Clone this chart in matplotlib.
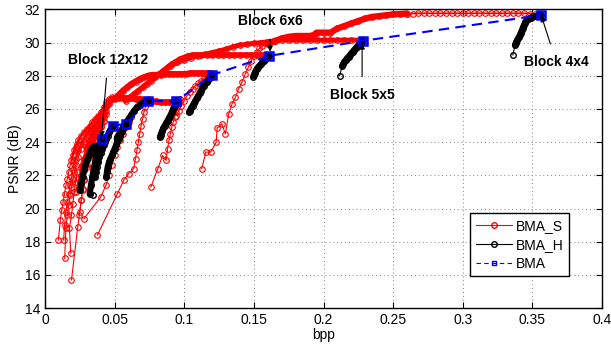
import matplotlib
matplotlib.use("Agg")
import matplotlib.pyplot as plt
from matplotlib.lines import Line2D

plt.rcParams["font.family"] = ["Liberation Sans", "DejaVu Sans"]

# ---- BMA (blue dashed, squares) ----
bma_x = [0.041, 0.049, 0.058, 0.074, 0.094, 0.120, 0.161, 0.228, 0.356]
bma_y = [24.2, 25.0, 25.1, 26.5, 26.45, 28.05, 29.2, 30.1, 31.65]

# ---- BMA_S curves (red) ----
sa_x = [0.0096, 0.011, 0.012, 0.013, 0.014, 0.015, 0.016, 0.017, 0.018, 0.019, 0.020, 0.021,
        0.022, 0.023, 0.024, 0.026, 0.028, 0.030, 0.032, 0.034, 0.036, 0.038, 0.040, 0.042,
        0.044, 0.046, 0.048]
sa_y = [18.1, 19.3, 19.9, 20.4, 20.9, 21.4, 21.8, 22.2, 22.6, 22.9, 23.2, 23.5,
        23.7, 23.9, 24.1, 24.4, 24.6, 24.8, 25.0, 25.2, 25.4, 25.6, 25.8, 26.1,
        26.4, 26.6, 26.7]
sb_x = [0.0134, 0.014, 0.015, 0.016, 0.017, 0.018, 0.019, 0.020, 0.021, 0.022, 0.024, 0.026,
        0.028, 0.030, 0.032, 0.034, 0.036, 0.038, 0.040, 0.042]
sb_y = [18.1, 19.0, 19.8, 20.4, 20.9, 21.4, 21.9, 22.3, 22.7, 23.0, 23.5, 23.9,
        24.2, 24.5, 24.7, 24.9, 25.1, 25.3, 25.5, 25.7]
sc_x = [0.0141, 0.015, 0.016, 0.017, 0.018, 0.019, 0.020, 0.021, 0.022, 0.024, 0.026, 0.028,
        0.030, 0.032, 0.034, 0.036]
sc_y = [17.0, 18.8, 19.6, 20.2, 20.8, 21.3, 21.8, 22.2, 22.6, 23.1, 23.6, 24.0,
        24.3, 24.6, 24.8, 25.0]
sd_x = [0.019, 0.0235, 0.025, 0.026, 0.027, 0.028, 0.030, 0.032, 0.034, 0.036, 0.038]
sd_y = [15.7, 18.9, 19.8, 20.5, 21.1, 21.7, 22.5, 23.1, 23.6, 24.1, 24.5]
sd2_x = [0.0185, 0.0175, 0.019, 0.020, 0.021, 0.022, 0.023]
sd2_y = [17.3, 18.8, 19.6, 20.3, 21.0, 21.6, 22.2]
se_x = [0.0245, 0.026, 0.027, 0.028, 0.030, 0.032, 0.034, 0.036, 0.038, 0.040, 0.042, 0.044]
se_y = [19.6, 20.5, 21.2, 21.8, 22.6, 23.2, 23.7, 24.1, 24.5, 24.9, 25.3, 25.7]
sf_x = [0.028, 0.040, 0.0437, 0.046, 0.048, 0.050, 0.052, 0.054, 0.056, 0.058, 0.060, 0.062]
sf_y = [19.4, 20.7, 21.4, 22.0, 22.6, 23.2, 23.7, 24.1, 24.5, 24.9, 25.2, 25.5]
sg_x = [0.0376, 0.052, 0.0568, 0.060, 0.0636, 0.065, 0.066, 0.067, 0.068, 0.069, 0.070,
        0.071, 0.072, 0.073, 0.074]
sg_y = [18.4, 20.9, 21.75, 22.1, 22.4, 23.0, 23.5, 24.0, 24.5, 25.0, 25.4,
        25.8, 26.1, 26.4, 26.6]
sh_x = [0.076, 0.081, 0.0845, 0.087, 0.088, 0.089, 0.090, 0.091, 0.092, 0.093, 0.094,
        0.095, 0.096, 0.097]
sh_y = [21.3, 22.4, 23.2, 22.9, 23.6, 24.1, 24.5, 24.9, 25.2, 25.5, 25.8,
        26.1, 26.4, 26.6]
si_x = [0.094, 0.096, 0.098, 0.100, 0.102, 0.104, 0.106, 0.108, 0.110, 0.112, 0.114,
        0.116, 0.118]
si_y = [25.6, 25.9, 26.2, 26.5, 26.8, 27.0, 27.2, 27.4, 27.55, 27.7, 27.85, 28.0, 28.1]
sj_x = [0.1125, 0.1155, 0.119, 0.1229, 0.1236, 0.127, 0.1295, 0.1319, 0.1343, 0.1367,
        0.139, 0.1414, 0.1438, 0.146, 0.148, 0.150, 0.152, 0.154, 0.156, 0.158, 0.160]
sj_y = [22.4, 23.4, 23.4, 24.0, 24.85, 25.1, 24.5, 25.7, 26.3, 26.7, 27.2, 27.6, 28.1,
        28.5, 28.9, 29.2, 29.45, 29.65, 29.8, 29.95, 30.05]
# dense bands of the lower-left cluster
sk_x = [0.022, 0.024, 0.026, 0.028, 0.030, 0.032, 0.034, 0.036, 0.038, 0.040, 0.042]
sk_y = [21.0, 21.8, 22.5, 23.0, 23.4, 23.8, 24.1, 24.4, 24.7, 25.0, 25.3]
sl_x = [0.026, 0.028, 0.030, 0.032, 0.034, 0.036, 0.038, 0.040, 0.042, 0.044, 0.046]
sl_y = [22.0, 22.6, 23.1, 23.5, 23.9, 24.3, 24.7, 25.1, 25.5, 25.9, 26.3]
# plateau bands
sp1_x = [0.030, 0.032, 0.034, 0.036, 0.038, 0.040, 0.042, 0.044, 0.046, 0.048, 0.050,
         0.053, 0.056, 0.059, 0.062, 0.065, 0.068, 0.071, 0.074, 0.077, 0.080, 0.083,
         0.086, 0.089, 0.092, 0.095]
sp1_y = [23.6, 24.0, 24.4, 24.8, 25.1, 25.4, 25.8, 26.1, 26.4, 26.6, 26.65,
         26.65, 26.65, 26.65, 26.65, 26.6, 26.6, 26.55, 26.5, 26.45, 26.45, 26.4,
         26.4, 26.4, 26.4, 26.4]
sp2_x = [0.050, 0.053, 0.056, 0.059, 0.062, 0.065, 0.068, 0.071, 0.074, 0.077, 0.080,
         0.083, 0.086, 0.089, 0.092, 0.095, 0.098, 0.101, 0.104, 0.107, 0.110, 0.113,
         0.116, 0.119]
sp2_y = [26.6, 26.85, 27.1, 27.3, 27.5, 27.65, 27.8, 27.9, 28.0, 28.05, 28.05,
         28.05, 28.1, 28.1, 28.1, 28.1, 28.1, 28.1, 28.15, 28.15, 28.15, 28.15,
         28.15, 28.15]
sp3_x = [0.058, 0.061, 0.064, 0.067, 0.070, 0.073, 0.076, 0.079, 0.082, 0.085, 0.088,
         0.091, 0.094, 0.097, 0.100, 0.103, 0.106, 0.109, 0.112, 0.116, 0.120, 0.124,
         0.128, 0.132, 0.136, 0.140, 0.144, 0.148, 0.152, 0.156, 0.160]
sp3_y = [26.5, 26.7, 26.9, 27.1, 27.3, 27.5, 27.7, 27.9, 28.1, 28.3, 28.5,
         28.7, 28.85, 29.0, 29.1, 29.2, 29.25, 29.25, 29.25, 29.25, 29.25, 29.25,
         29.25, 29.25, 29.25, 29.25, 29.25, 29.25, 29.25, 29.25, 29.25]
sp4_x = [0.090, 0.095, 0.100, 0.105, 0.110, 0.115, 0.120, 0.125, 0.130, 0.135, 0.140,
         0.145, 0.150, 0.155, 0.160, 0.165, 0.170, 0.175, 0.180, 0.185, 0.190, 0.195,
         0.200, 0.205, 0.210, 0.215, 0.220, 0.226]
sp4_y = [28.6, 28.8, 28.95, 29.1, 29.2, 29.3, 29.4, 29.5, 29.6, 29.75, 29.85,
         29.9, 29.95, 30.0, 30.05, 30.1, 30.15, 30.15, 30.15, 30.15, 30.15, 30.15,
         30.15, 30.15, 30.15, 30.15, 30.15, 30.15]
sp5_x = [0.160, 0.165, 0.170, 0.175, 0.180, 0.185, 0.190, 0.193, 0.195, 0.200, 0.205,
         0.210, 0.215, 0.220, 0.225, 0.230, 0.235, 0.240, 0.245, 0.250, 0.255, 0.260]
sp5_y = [29.9, 30.1, 30.25, 30.35, 30.4, 30.4, 30.4, 30.45, 30.6, 30.6, 30.6,
         30.85, 31.0, 31.15, 31.3, 31.45, 31.55, 31.6, 31.65, 31.7, 31.72, 31.75]
sp6_x = [0.260, 0.264, 0.268, 0.272, 0.276, 0.280, 0.284, 0.288, 0.292, 0.296, 0.300,
         0.304, 0.308, 0.312, 0.316, 0.320, 0.324, 0.328, 0.332, 0.336, 0.340, 0.344,
         0.348, 0.352, 0.355]
sp6_y = [31.75, 31.75, 31.76, 31.76, 31.76, 31.76, 31.76, 31.76, 31.76, 31.76, 31.76,
         31.76, 31.76, 31.76, 31.76, 31.76, 31.76, 31.76, 31.76, 31.76, 31.76, 31.76,
         31.75, 31.72, 31.7]

# ---- BMA_H curves (black) ----
h1_x = [0.336, 0.3375, 0.338, 0.3385, 0.339, 0.340, 0.3405, 0.341, 0.3415, 0.342, 0.3425,
        0.343, 0.3435, 0.344, 0.3445, 0.345, 0.346, 0.347, 0.348, 0.349, 0.350, 0.351,
        0.352, 0.353, 0.354, 0.355, 0.356]
h1_y = [29.25, 29.85, 29.95, 30.05, 30.15, 30.25, 30.35, 30.45, 30.55, 30.65, 30.75,
        30.85, 30.95, 31.05, 31.15, 31.25, 31.35, 31.4, 31.45, 31.5, 31.55, 31.58,
        31.6, 31.62, 31.64, 31.65, 31.65]
h2_x = [0.2115, 0.2135, 0.214, 0.215, 0.216, 0.217, 0.218, 0.219, 0.220, 0.221, 0.222,
        0.223, 0.224, 0.225, 0.226, 0.227, 0.228]
h2_y = [28.0, 28.6, 28.7, 28.85, 28.95, 29.05, 29.15, 29.25, 29.35, 29.45, 29.55,
        29.65, 29.75, 29.85, 29.95, 30.05, 30.1]
h3_x = [0.1495, 0.150, 0.1505, 0.151, 0.152, 0.153, 0.154, 0.155, 0.156, 0.157, 0.158,
        0.159, 0.160, 0.161]
h3_y = [27.95, 28.05, 28.15, 28.25, 28.4, 28.5, 28.6, 28.7, 28.8, 28.9, 29.0,
        29.1, 29.15, 29.2]
h4_x = [0.1035, 0.104, 0.105, 0.106, 0.107, 0.108, 0.109, 0.110, 0.111, 0.112, 0.113,
        0.114, 0.115, 0.116, 0.117, 0.118, 0.119, 0.120]
h4_y = [25.8, 25.9, 26.05, 26.2, 26.35, 26.5, 26.65, 26.8, 26.95, 27.1, 27.25,
        27.4, 27.55, 27.65, 27.75, 27.85, 27.95, 28.05]
h5_x = [0.0825, 0.083, 0.084, 0.085, 0.086, 0.087, 0.088, 0.089, 0.090, 0.091, 0.092,
        0.093, 0.094]
h5_y = [24.3, 24.45, 24.65, 24.85, 25.0, 25.15, 25.3, 25.45, 25.6, 25.8, 26.0, 26.2, 26.45]
h6_x = [0.0515, 0.052, 0.053, 0.054, 0.055, 0.056, 0.057, 0.058, 0.059, 0.060, 0.062,
        0.064, 0.066, 0.068, 0.070, 0.072, 0.074]
h6_y = [24.2, 24.3, 24.45, 24.6, 24.75, 24.9, 25.0, 25.1, 25.25, 25.4, 25.65,
        25.9, 26.1, 26.25, 26.4, 26.5, 26.5]
h7_x = [0.044, 0.0445, 0.045, 0.046, 0.047, 0.048, 0.049, 0.050, 0.051, 0.052, 0.053,
        0.054, 0.055, 0.056, 0.057, 0.058]
h7_y = [21.9, 22.2, 22.5, 22.8, 23.0, 23.2, 23.4, 23.6, 23.8, 24.0, 24.2,
        24.4, 24.6, 24.8, 25.0, 25.1]
h8_x = [0.036, 0.0365, 0.037, 0.038, 0.039, 0.040, 0.041, 0.042, 0.043, 0.044, 0.045,
        0.046, 0.047, 0.048, 0.049]
h8_y = [21.9, 22.2, 22.5, 22.8, 23.1, 23.35, 23.6, 23.8, 24.0, 24.2, 24.4,
        24.6, 24.75, 24.9, 25.0]
h9_x = [0.0345, 0.0321, 0.033, 0.034, 0.035, 0.036, 0.037, 0.038, 0.039, 0.040, 0.041]
h9_y = [20.8, 20.9, 21.4, 21.9, 22.4, 22.8, 23.2, 23.6, 23.9, 24.1, 24.25]
h10_x = [0.0249, 0.026, 0.027, 0.028, 0.029, 0.030, 0.031, 0.032, 0.033, 0.034, 0.035]
h10_y = [21.1, 21.5, 21.9, 22.3, 22.6, 22.9, 23.1, 23.3, 23.5, 23.65, 23.75]

# (x, y, band width in points, index where the dense band starts)
s_curves = [(sa_x, sa_y, 2.0, 9), (sb_x, sb_y, 1.5, 8), (sc_x, sc_y, 1.0, 8),
            (sd_x, sd_y, 0.8, 0), (sd2_x, sd2_y, 0.8, 0), (se_x, se_y, 1.5, 5),
            (sf_x, sf_y, 0.8, 0), (sg_x, sg_y, 0.8, 0), (sh_x, sh_y, 0.8, 0),
            (si_x, si_y, 0.8, 0), (sj_x, sj_y, 0.8, 0), (sk_x, sk_y, 3.0, 2),
            (sl_x, sl_y, 3.0, 1), (sp1_x, sp1_y, 4.5, 0), (sp2_x, sp2_y, 4.5, 0),
            (sp3_x, sp3_y, 4.0, 0), (sp4_x, sp4_y, 3.5, 0), (sp5_x, sp5_y, 4.5, 0),
            (sp6_x, sp6_y, 1.2, 0)]
# (x, y, index where the dense part starts)
h_curves = [(h1_x, h1_y, 1), (h2_x, h2_y, 1), (h3_x, h3_y, 0), (h4_x, h4_y, 0),
            (h5_x, h5_y, 0), (h6_x, h6_y, 0), (h7_x, h7_y, 0), (h8_x, h8_y, 0),
            (h9_x, h9_y, 1), (h10_x, h10_y, 0)]

fig = plt.figure(figsize=(6.11, 3.47), dpi=100)
ax = fig.add_axes([0.0737, 0.112, 0.9116, 0.861])

for x, y, w, k in s_curves:
    if w > 1:
        ax.plot(x[k:], y[k:], "-", color="red", lw=w, solid_capstyle="round")
    ax.plot(x, y, "-o", color="red", lw=0.8, ms=4, mfc="none", mew=0.8)
for x, y, k in h_curves:
    ax.plot(x, y, "-o", color="black", lw=0.8, ms=4, mfc="none", mew=1.0)
    ax.plot(x[k:], y[k:], "-", color="black", lw=4.5, solid_capstyle="round")
ax.plot(bma_x, bma_y, "--s", color="blue", lw=1.5, ms=6, mfc="none", mew=1.8,
        dashes=(5, 3))

ax.set_xlim(0, 0.4)
ax.set_ylim(14, 32)
ax.set_xticks([0, 0.05, 0.1, 0.15, 0.2, 0.25, 0.3, 0.35, 0.4])
ax.set_xticklabels(["0", "0.05", "0.1", "0.15", "0.2", "0.25", "0.3", "0.35", "0.4"])
ax.set_yticks(range(14, 33, 2))
ax.tick_params(direction="in", top=True, right=True, labelsize=10, length=4)
ax.grid(True, linestyle=(0, (1, 3)), color="gray", lw=0.7)
ax.set_xlabel("bpp", fontsize=10, labelpad=1)
ax.set_ylabel("PSNR (dB)", fontsize=10, labelpad=2)
for sp in ax.spines.values():
    sp.set_linewidth(1.0)

# annotations
bold = dict(fontsize=10, fontweight="bold", ha="center", va="center")
arrow = dict(arrowstyle="-|>", color="black", lw=0.8, shrinkA=6, shrinkB=0,
             mutation_scale=8)
ax.annotate("Block 12x12", xy=(0.0405, 24.3), xytext=(0.0452, 28.95),
            arrowprops=arrow, **bold)
ax.annotate("Block 6x6", xy=(0.1616, 29.45), xytext=(0.1616, 31.3),
            arrowprops=arrow, **bold)
ax.annotate("Block 5x5", xy=(0.2277, 29.95), xytext=(0.2277, 26.85),
            arrowprops=arrow, **bold)
ax.annotate("Block 4x4", xy=(0.3565, 31.6), xytext=(0.367, 28.85),
            arrowprops=arrow, **bold)

handles = [
    Line2D([], [], color="red", marker="o", ms=4, mfc="none", lw=0.8),
    Line2D([], [], color="black", marker="o", ms=4, mfc="none", lw=0.8),
    Line2D([], [], color="blue", marker="s", ms=3.5, mfc="none", lw=0.8,
           linestyle="--", dashes=(4, 3)),
]
leg = ax.legend(handles, ["BMA_S", "BMA_H", "BMA"], loc="lower right",
                bbox_to_anchor=(0.941, 0.107), fontsize=10, fancybox=False,
                framealpha=1, edgecolor="black", borderaxespad=0,
                handlelength=2.6, handletextpad=0.3, labelspacing=0.35,
                borderpad=0.4)
leg.get_frame().set_linewidth(1.0)

fig.savefig("out.png", dpi=100)
